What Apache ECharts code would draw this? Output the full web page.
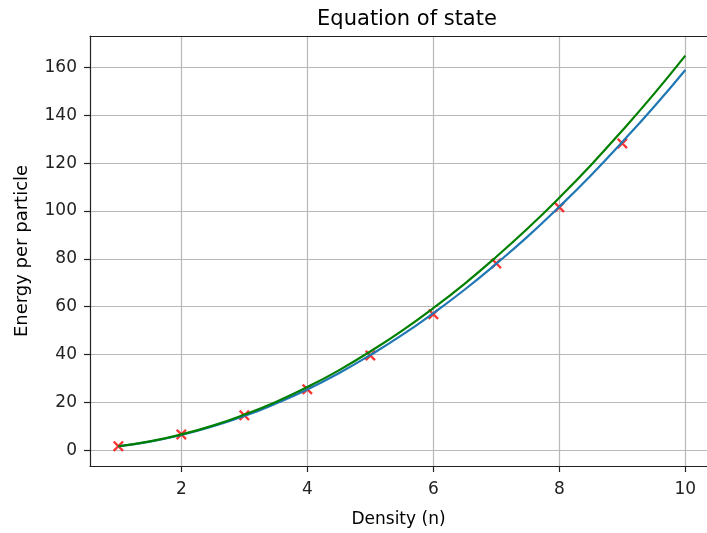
<!DOCTYPE html>
<html>
<head>
<meta charset="utf-8">
<script src="https://cdn.jsdelivr.net/npm/echarts@6/dist/echarts.min.js"></script>
<style>
html,body{margin:0;padding:0;background:#fff;}
#chart{width:707px;height:533px;}
</style>
</head>
<body>
<div id="chart"></div>
<script>
// Data
const densities = [1, 1.5, 2, 2.5, 3, 3.5, 4, 4.5, 5, 5.5, 6, 6.5, 7, 7.5, 8, 8.5, 9, 9.5, 10];
const blueEnergy = [1.6, 3.6, 6.4, 10.0, 14.3, 19.5, 25.4, 32.2, 39.8, 48.1, 57.3, 67.2, 78.0, 89.4, 101.8, 114.9, 128.9, 143.5, 159.0];
const greenEnergy = [1.65, 3.7, 6.6, 10.3, 14.9, 20.2, 26.4, 33.4, 41.3, 49.9, 59.4, 69.7, 80.9, 92.8, 105.6, 119.2, 133.7, 148.9, 165.0];
const sampleDensity = [1, 2, 3, 4, 5, 6, 7, 8, 9];
const sampleEnergy = [1.7, 6.6, 14.6, 25.5, 39.6, 56.9, 78.1, 101.6, 128.3];
const xTicks = [2, 4, 6, 8, 10];
const yTicks = [0, 20, 40, 60, 80, 100, 120, 140, 160];

const zip = (a, b) => a.map((v, i) => [v, b[i]]);
const FONT = 'DejaVu Sans';
const crossPath = 'path://M1.5,0L5,3.5L8.5,0L10,1.5L6.5,5L10,8.5L8.5,10L5,6.5L1.5,10L0,8.5L3.5,5L0,1.5Z';
const SPINE = '#222';

const chart = echarts.init(document.getElementById('chart'), null, {renderer: 'canvas'});
chart.setOption({
  animation: false,
  backgroundColor: '#fff',
  title: {
    text: 'Equation of state',
    left: 402, top: 4, textAlign: 'center',
    textStyle: {fontFamily: FONT, fontSize: 21, fontWeight: 'normal', color: '#000'}
  },
  grid: {left: 90, top: 36, right: 0, bottom: 67, show: false},
  xAxis: [{
    type: 'value', min: 0.55, max: 10.344,
    name: 'Density (n)', nameLocation: 'middle', nameGap: 45,
    nameTextStyle: {fontFamily: FONT, fontSize: 17, color: '#000'},
    axisLine: {show: true, onZero: false, lineStyle: {color: SPINE, width: 1.2}},
    axisTick: {show: true, inside: false, length: 6, customValues: xTicks, lineStyle: {color: SPINE, width: 1.2}},
    axisLabel: {customValues: xTicks, margin: 15, fontFamily: FONT, fontSize: 17, color: '#222'},
    splitLine: {show: true, lineStyle: {color: '#b8b8b8', width: 1.2}}
  }, {
    type: 'value', position: 'top', min: 0.55, max: 10.344,
    axisLine: {show: true, onZero: false, lineStyle: {color: SPINE, width: 1.2}},
    axisTick: {show: false}, axisLabel: {show: false}, splitLine: {show: false}
  }],
  yAxis: {
    type: 'value', min: -6.6, max: 173.2,
    name: 'Energy per particle', nameLocation: 'middle', nameGap: 59,
    nameTextStyle: {fontFamily: FONT, fontSize: 18, color: '#000'},
    axisLine: {show: true, onZero: false, lineStyle: {color: SPINE, width: 1.2}},
    axisTick: {show: true, inside: false, length: 6, customValues: yTicks, lineStyle: {color: SPINE, width: 1.2}},
    axisLabel: {customValues: yTicks, margin: 13, fontFamily: FONT, fontSize: 17, color: '#222'},
    splitLine: {show: true, lineStyle: {color: '#b8b8b8', width: 1.2}}
  },
  series: [
    {
      type: 'scatter', z: 1,
      data: zip(sampleDensity, sampleEnergy),
      symbol: crossPath, symbolSize: 11,
      itemStyle: {color: '#ff0000'}
    },
    {
      type: 'line', z: 2, smooth: true, showSymbol: false,
      data: zip(densities, blueEnergy),
      lineStyle: {color: '#1f77b4', width: 2.2}
    },
    {
      type: 'line', z: 3, smooth: true, showSymbol: false,
      data: zip(densities, greenEnergy),
      lineStyle: {color: '#008000', width: 2.2}
    }
  ]
});
</script>
</body>
</html>
